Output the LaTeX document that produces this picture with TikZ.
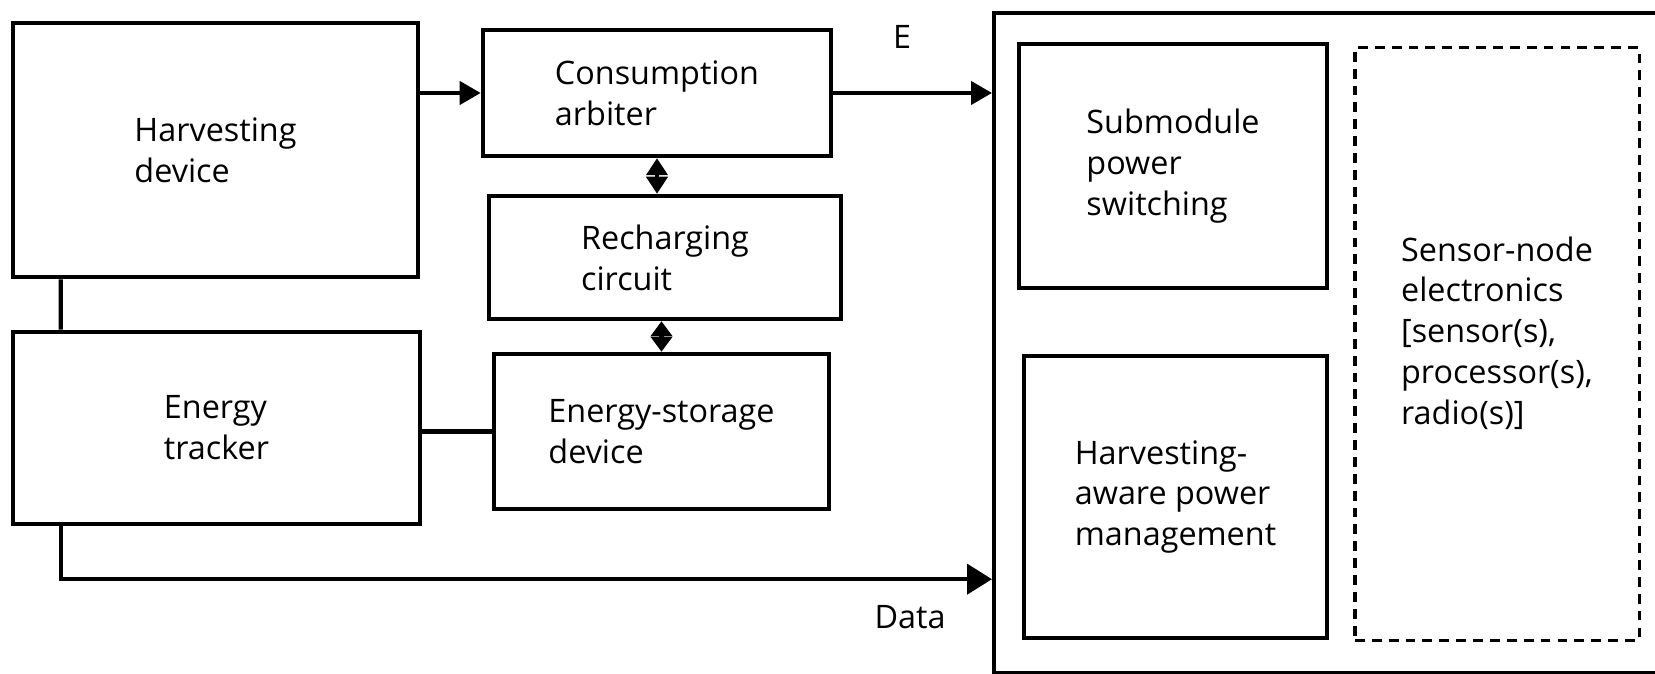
\documentclass[tikz,border=0pt]{standalone}
\usepackage{fontspec}
\setmainfont{Open Sans}
\usetikzlibrary{arrows.meta,calc}
\newcommand\diagfont{\fontsize{9.2}{11.6}\selectfont\lineskiplimit-20pt\relax\lineskip0pt\relax}
\begin{document}
\begin{tikzpicture}[x=0.01cm,y=-0.01cm,
  txt/.style={font=\diagfont},
  box/.style={draw, line width=1.25pt, align=left, inner sep=0pt, txt},
  conn/.style={line width=1.2pt},
  arr/.style={conn, -{Triangle[length=0.21cm,width=0.23cm]}},
  bigarr/.style={conn, -{Triangle[length=0.25cm,width=0.3cm]}},
  dbl/.style={conn, {Triangle[length=0.17cm,width=0.21cm]}-{Triangle[length=0.17cm,width=0.21cm]}},
  dbls/.style={conn, {Triangle[length=0.15cm,width=0.21cm]}-{Triangle[length=0.15cm,width=0.21cm]}},
  lbl/.style={txt, inner sep=0pt}]
\useasboundingbox (0,0) rectangle (1655,674);
\clip (0,0) rectangle (1655,674);
% left column
\node[box, minimum width=4.05cm, minimum height=2.54cm] (harv) at (215.5,150) {Harvesting\\device};
\node[box, minimum width=4.07cm, minimum height=1.92cm] (track) at (216.5,428) {Energy\\tracker};
% middle column
\node[box, minimum width=3.48cm, minimum height=1.26cm] (cons) at (657,93) {Consumption\\arbiter};
\node[box, minimum width=3.52cm, minimum height=1.23cm] (rech) at (665,257.5) {Recharging\\circuit};
\node[box, minimum width=3.35cm, minimum height=1.55cm] (stor) at (661.5,431.5) {Energy-storage\\device};
% right big box
\node[draw, line width=1.1pt, minimum width=7.5cm, minimum height=6.6cm, anchor=north west, inner sep=0pt] (big) at (992,11) {};
\node[box, minimum width=3.08cm, minimum height=2.44cm] (sub) at (1173,166) {Submodule\\power\\switching};
\node[box, minimum width=3.03cm, minimum height=2.82cm] (hapm) at (1175.5,497) {Harvesting-\\aware power\\management};
\node[draw, txt, inner sep=0pt, line width=0.9pt, dash pattern=on 2.8pt off 2pt, minimum width=2.84cm, minimum height=5.92cm] (sens) at (1497,344)
  {\lineskiplimit0pt\begin{tabular}{@{}l@{}}Sensor-node\tabularnewline electronics\tabularnewline {[}sensor(s),\tabularnewline processor(s),\tabularnewline radio(s)]\end{tabular}\rule[-1.13cm]{0pt}{0pt}};
% labels
\node[lbl] (E) at (902,37) {E};
\node[lbl] (data) at (910,617) {Data};
% connectors
\draw[arr] (harv.east |- cons.west) -- (cons.west);
\draw[arr] (cons.east) -- (cons.east -| big.west);
\draw[dbl] (cons.south) -- (cons.south |- rech.north);
\draw[dbls] (stor.north |- rech.south) -- (stor.north);
\draw[conn] ([xshift=0.5cm]harv.south west) -- ([xshift=0.5cm]track.north west);
\draw[conn] (track.east |- stor.west) -- (stor.west);
\draw[bigarr] ([xshift=0.5cm]track.south west) |- ([yshift=0.96cm]big.south west);
\end{tikzpicture}
\end{document}
